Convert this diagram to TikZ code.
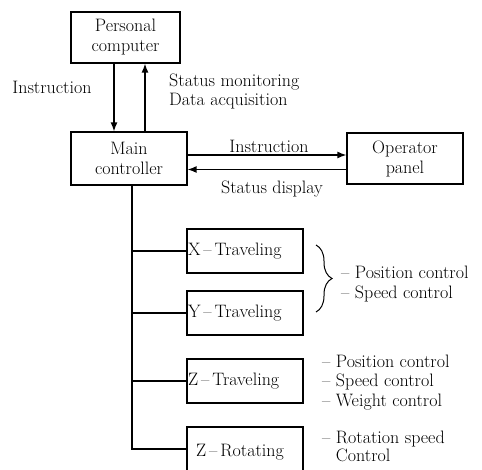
\documentclass[tikz,border=0pt]{standalone}
\usetikzlibrary{arrows.meta,decorations.pathreplacing}
\begin{document}
\begin{tikzpicture}[x=1pt,y=-1pt,
  every node/.style={font=\fontsize{18}{20}\selectfont, inner sep=0pt},
  box/.style={draw, line width=1.2pt},
  unit/.style={box, minimum width=116pt, minimum height=44pt, text width=114pt, align=left, inner xsep=1pt},
  arr/.style={line width=1.4pt, -{Latex[length=9pt,width=7pt]}},
  ln/.style={line width=1.2pt},
  note/.style={anchor=west, align=left, font=\fontsize{18}{19.5}\selectfont}]
\useasboundingbox (0,0) rectangle (482,470);
\clip (0,0) rectangle (482,470);
% main boxes
\node[box, minimum width=109pt, minimum height=51pt, align=center] (pc) at (125.5,37.5) {Personal\\computer};
\node[box, minimum width=116pt, minimum height=53pt, align=center] (main) at (129,158.5) {Main\\controller};
\node[box, minimum width=116pt, minimum height=51pt, align=center] (op) at (405,158.5) {Operator\\panel};
% PC <-> main
\draw[arr] ([xshift=-11.5pt]pc.south) -- ([xshift=-15pt]main.north);
\draw[arr] ([xshift=16pt]main.north) -- ([xshift=19.5pt]pc.south);
\node (l1) at (52,87) {Instruction};
\node[anchor=west, align=left, font=\fontsize{18}{19}\selectfont] (l2) at (169,91) {Status monitoring\\Data acquisition};
% main <-> operator
\draw[arr] ([yshift=3.5pt]main.east) -- ([yshift=3.5pt]op.west);
\draw[arr] ([yshift=-11pt]op.west) -- ([yshift=-11pt]main.east);
\node (l3) at (269,146) {Instruction};
\node (l4) at (272,189) {Status display};
% units
\node[unit] (xt) at (245,251) {X\,--\,Traveling};
\node[unit] (yt) at (245,313) {Y\,--\,Traveling};
\node[unit] (zt) at (245,381) {Z\,--\,Traveling};
\node[box, minimum width=116pt, minimum height=73pt] (zr) at (245,463.5) {};
\node (zrl) at (240,452) {Z\,--\,Rotating};
% trunk
\coordinate (tk) at (132,449);
\draw[ln] (main.south -| tk) -- (tk) -- (tk -| zr.west);
\draw[ln] (xt.west) -- (xt.west -| tk);
\draw[ln] (yt.west) -- (yt.west -| tk);
\draw[ln] (zt.west) -- (zt.west -| tk);
% brace
\coordinate (b1) at (316,245);
\coordinate (b2) at (316,312);
\draw[line width=1pt, decoration={brace, amplitude=16pt}, decorate] (b1) -- (b2);
% notes
\node[note] (n1) at (341,284) {-- Position control\\-- Speed control};
\node[note] (n2) at (322,382.5) {-- Position control\\-- Speed control\\-- Weight control};
\node[note, font=\fontsize{18}{18}\selectfont] (n3) at (322,446) {-- Rotation speed\\\phantom{-- }Control};
\end{tikzpicture}
\end{document}
